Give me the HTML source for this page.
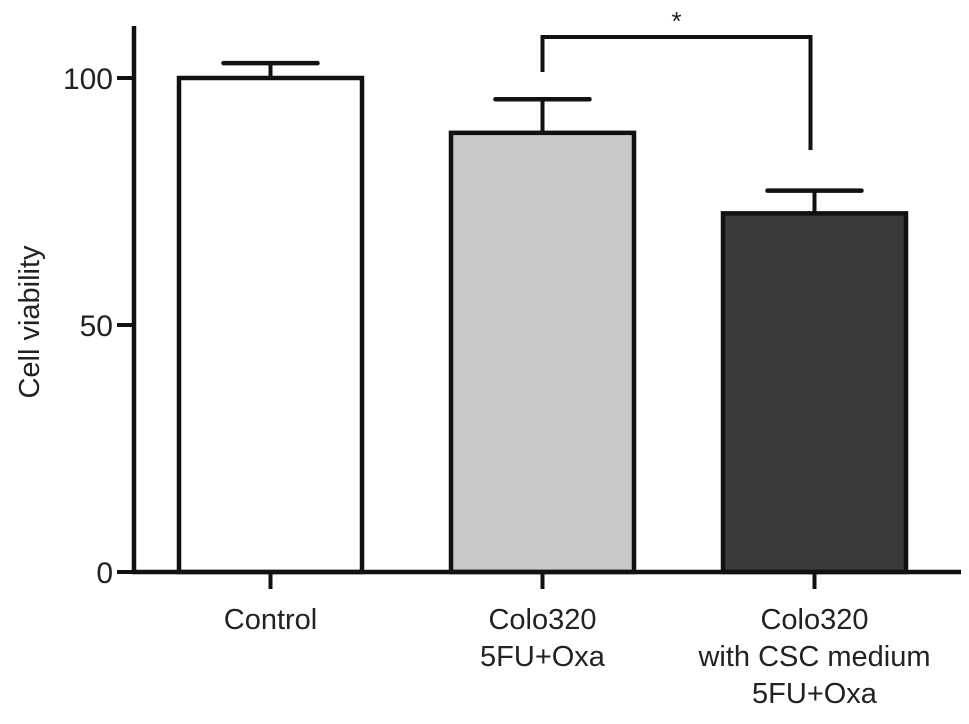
<!DOCTYPE html>
<html><head><meta charset="utf-8"><style>
html,body{margin:0;padding:0;background:#fff;}
svg{display:block;font-family:"Liberation Sans",Arial,sans-serif;}
</style></head><body>
<svg id="chart" width="969" height="724" viewBox="0 0 969 724" xmlns="http://www.w3.org/2000/svg"></svg>
<script>
const categories = [["Control"],["Colo320","5FU+Oxa"],["Colo320","with CSC medium","5FU+Oxa"]];
const means = [100, 88.9, 72.6];
const errors = [3, 6.8, 4.6];
const fills = ["#ffffff","#c8c8c8","#3a3a3a"];
const yTicks = [0, 50, 100];
const sig = {from:1, to:2, label:"*"};

const NS="http://www.w3.org/2000/svg";
const svg=document.getElementById('chart');
const x0=134, y0=572, pxPerUnit=4.94, barW=183, step=272, firstCenter=270.5;
function yS(v){return y0 - v*pxPerUnit;}
function xC(i){return firstCenter + i*step;}
function mk(tag,attrs){const e=document.createElementNS(NS,tag);for(const k in attrs)e.setAttribute(k,attrs[k]);svg.appendChild(e);return e;}
const S="#111";

// bars
categories.forEach((c,i)=>{
  const cx=xC(i), top=yS(means[i]), errTop=yS(means[i]+errors[i]);
  const eb=mk('line',{x1:cx,x2:cx,y1:top,y2:errTop,stroke:S,'stroke-width':4});
  
  
  const cap=mk('line',{x1:cx-47,x2:cx+47,y1:errTop,y2:errTop,stroke:S,'stroke-width':4.5,'stroke-linecap':'round'});
  
  
  const r=mk('rect',{x:cx-barW/2,y:top,width:barW,height:y0-top,fill:fills[i],stroke:S,'stroke-width':4.5});
  
  
  const tk=mk('line',{x1:cx,x2:cx,y1:y0,y2:y0+17,stroke:S,'stroke-width':4});
  
  
  c.forEach((ln,j)=>{
    const t=mk('text',{x:cx,y:629+j*37,'text-anchor':'middle','font-size':29,fill:'#222'});
    t.textContent=ln;
    
    
  });
});
// axes
const ya=mk('line',{x1:x0,x2:x0,y1:26,y2:y0+2,stroke:S,'stroke-width':4.5});


const xa=mk('line',{x1:x0-2,x2:961,y1:y0,y2:y0,stroke:S,'stroke-width':4.5});


yTicks.forEach(v=>{
  const tk=mk('line',{x1:x0-17,x2:x0,y1:yS(v),y2:yS(v),stroke:S,'stroke-width':4});
  
  
  const t=mk('text',{x:x0-21,y:yS(v)+11,'text-anchor':'end','font-size':30,fill:'#222'});
  t.textContent=v;
  
  
});
const yl=mk('text',{x:0,y:0,transform:'translate(39,322) rotate(-90)','text-anchor':'middle','font-size':29,fill:'#222'});
yl.textContent='Cell viability';


// significance bracket
const a=xC(sig.from), b=xC(sig.to)-4;
const br=mk('polyline',{points:`${a},72 ${a},37 ${b},37 ${b},150`,fill:'none',stroke:S,'stroke-width':4});


const st=mk('text',{x:(a+b)/2,y:30,'text-anchor':'middle','font-size':26,fill:'#222'});
st.textContent=sig.label;


</script>
</body></html>
